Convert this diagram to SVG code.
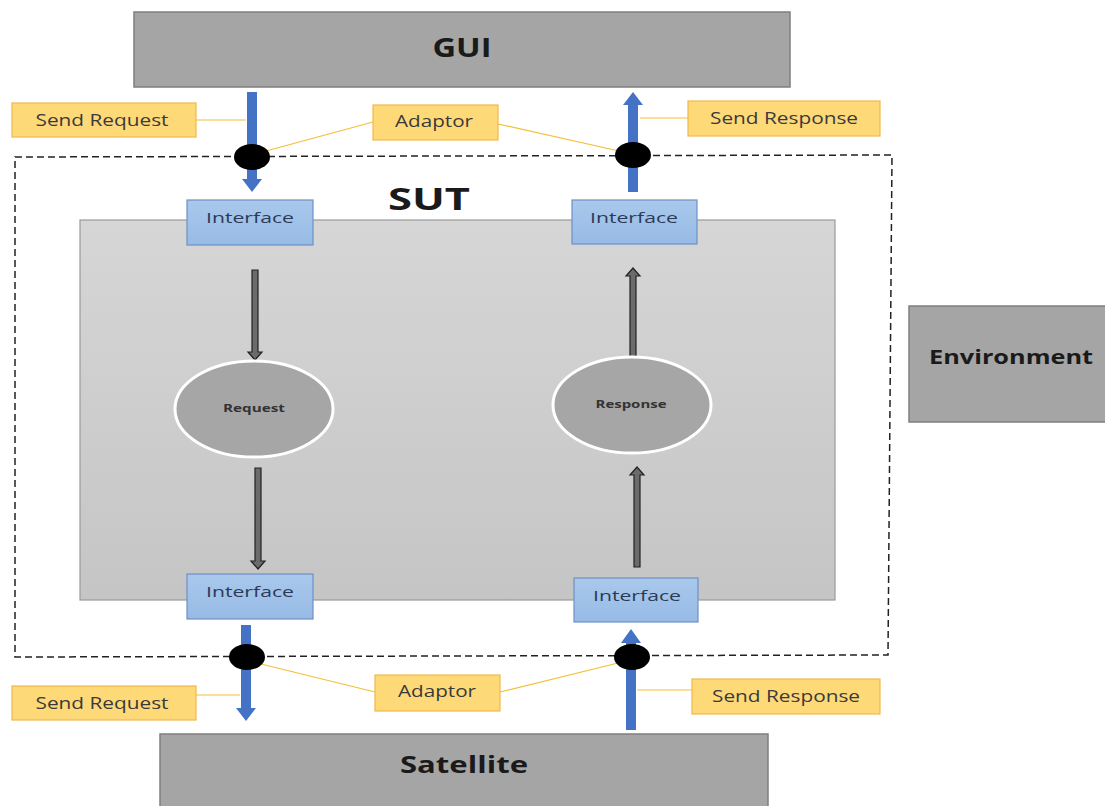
<svg xmlns="http://www.w3.org/2000/svg" width="1105" height="806" viewBox="0 0 1105 806">
  <style>
    .box { fill: #a5a5a5; stroke: #7f7f7f; stroke-width: 1.5; }
    .big { font-family: "Open Sans", "Liberation Sans", sans-serif; font-weight: bold; fill: #1a1a1a; text-anchor: middle; }
    .lbl { fill: #fed978; stroke: #f2b84b; stroke-width: 1.2; }
    .lbltxt { font-family: "Open Sans", "Liberation Sans", sans-serif; font-size: 16px; fill: #3a3a3a; text-anchor: middle; }
    .iface { fill: url(#ifaceGrad); stroke: #6f90c4; stroke-width: 1.2; }
    .ifacetxt { font-family: "Open Sans", "Liberation Sans", sans-serif; font-size: 15px; fill: #2b3a55; text-anchor: middle; }
    .proc { fill: #a6a6a6; stroke: #ffffff; stroke-width: 3; }
    .proctxt { font-family: "Open Sans", "Liberation Sans", sans-serif; font-size: 10px; font-weight: bold; fill: #333; text-anchor: middle; }
    .lead { stroke: #f2c037; stroke-width: 1.2; fill: none; }
    .pipe { stroke: #4472c4; stroke-width: 10; fill: none; }
    .head { fill: #4472c4; }
    .flow { fill: #6b6b6b; stroke: #222; stroke-width: 1.2; }
    .port { fill: #000; }
  </style>
  <defs>
    <linearGradient id="innerGrad" x1="0" y1="0" x2="0" y2="1">
      <stop offset="0" stop-color="#d6d6d6"/>
      <stop offset="1" stop-color="#c5c5c5"/>
    </linearGradient>
    <linearGradient id="ifaceGrad" x1="0" y1="0" x2="0" y2="1">
      <stop offset="0" stop-color="#a9c8ec"/>
      <stop offset="1" stop-color="#97bbe6"/>
    </linearGradient>
  </defs>

  <rect width="1105" height="806" fill="#ffffff"/>

  <!-- System boundary -->
  <g id="sut">
    <path d="M15,157 L892,155 L888,655 L15,657 Z" fill="none" stroke="#222" stroke-width="1.5" stroke-dasharray="7,4"/>
    <text class="big" x="429" y="210" font-size="30" textLength="82" lengthAdjust="spacingAndGlyphs">SUT</text>
  </g>

  <g id="core">
    <rect x="80" y="220" width="755" height="380" fill="url(#innerGrad)" stroke="#9a9a9a" stroke-width="1.2"/>
  </g>

  <g id="gui">
    <rect class="box" x="134" y="12" width="656" height="75"/>
    <text class="big" x="462" y="57" font-size="26" textLength="59" lengthAdjust="spacingAndGlyphs">GUI</text>
  </g>

  <g id="satellite">
    <rect class="box" x="160" y="734" width="608" height="80"/>
    <text class="big" x="464" y="773" font-size="24" textLength="128" lengthAdjust="spacingAndGlyphs">Satellite</text>
  </g>

  <g id="environment">
    <rect class="box" x="909" y="306" width="200" height="116"/>
    <text class="big" x="1011" y="364" font-size="20" textLength="164" lengthAdjust="spacingAndGlyphs">Environment</text>
  </g>

  <!-- Connectors -->
  <g id="connectors">
    <!-- GUI to SUT request -->
    <line class="pipe" x1="252" y1="92" x2="252" y2="180"/>
    <polygon class="head" points="242,179 262,179 252,192"/>
    <!-- SUT to GUI response -->
    <line class="pipe" x1="633" y1="104" x2="633" y2="192"/>
    <polygon class="head" points="623,105 643,105 633,92"/>
    <!-- SUT to Satellite request -->
    <line class="pipe" x1="246" y1="625" x2="246" y2="710"/>
    <polygon class="head" points="236,708 256,708 246,721"/>
    <!-- Satellite to SUT response -->
    <line class="pipe" x1="631" y1="642" x2="631" y2="730"/>
    <polygon class="head" points="621,643 641,643 631,629"/>

    <!-- internal flows -->
    <path class="flow" d="M252,270 H258 V352 H262 L255,360 L248,352 H252 Z"/>
    <path class="flow" d="M255,468 H261 V561 H265 L258,569 L251,561 H255 Z"/>
    <path class="flow" d="M630,357 H636 V276 H640 L633,268 L626,276 H630 Z"/>
    <path class="flow" d="M634,567 H640 V475 H644 L637,467 L630,475 H634 Z"/>

    <!-- label leaders -->
    <line class="lead" x1="196" y1="120" x2="246" y2="120"/>
    <line class="lead" x1="373" y1="122" x2="266" y2="151"/>
    <line class="lead" x1="498" y1="124" x2="619" y2="151"/>
    <line class="lead" x1="688" y1="118" x2="640" y2="118"/>
    <line class="lead" x1="196" y1="695" x2="240" y2="695"/>
    <line class="lead" x1="375" y1="692" x2="261" y2="664"/>
    <line class="lead" x1="500" y1="692" x2="618" y2="663"/>
    <line class="lead" x1="692" y1="690" x2="637" y2="690"/>

    <!-- adaptor ports -->
    <ellipse class="port" cx="252" cy="157" rx="18" ry="13"/>
    <ellipse class="port" cx="633" cy="155" rx="18" ry="13"/>
    <ellipse class="port" cx="247" cy="657" rx="18" ry="13"/>
    <ellipse class="port" cx="632" cy="657" rx="18" ry="13"/>
  </g>

  <!-- Interfaces -->
  <g id="iface-top-left">
    <rect class="iface" x="187" y="200" width="126" height="45"/>
    <text class="ifacetxt" x="250" y="223" textLength="88" lengthAdjust="spacingAndGlyphs">Interface</text>
  </g>
  <g id="iface-top-right">
    <rect class="iface" x="572" y="200" width="125" height="44"/>
    <text class="ifacetxt" x="634" y="223" textLength="88" lengthAdjust="spacingAndGlyphs">Interface</text>
  </g>
  <g id="iface-bottom-left">
    <rect class="iface" x="187" y="574" width="126" height="45"/>
    <text class="ifacetxt" x="250" y="597" textLength="88" lengthAdjust="spacingAndGlyphs">Interface</text>
  </g>
  <g id="iface-bottom-right">
    <rect class="iface" x="574" y="578" width="124" height="44"/>
    <text class="ifacetxt" x="637" y="601" textLength="88" lengthAdjust="spacingAndGlyphs">Interface</text>
  </g>

  <!-- Processes -->
  <g id="request">
    <ellipse class="proc" cx="254" cy="409" rx="79" ry="48"/>
    <text class="proctxt" x="254" y="412" textLength="62" lengthAdjust="spacingAndGlyphs">Request</text>
  </g>
  <g id="response">
    <ellipse class="proc" cx="632" cy="405" rx="79" ry="48"/>
    <text class="proctxt" x="631" y="408" textLength="71" lengthAdjust="spacingAndGlyphs">Response</text>
  </g>

  <!-- Labels -->
  <g id="label-send-request-top">
    <rect class="lbl" x="12" y="103" width="184" height="34"/>
    <text class="lbltxt" x="102" y="126" textLength="133" lengthAdjust="spacingAndGlyphs">Send Request</text>
  </g>
  <g id="label-adaptor-top">
    <rect class="lbl" x="373" y="105" width="125" height="35"/>
    <text class="lbltxt" x="434" y="127" textLength="78" lengthAdjust="spacingAndGlyphs">Adaptor</text>
  </g>
  <g id="label-send-response-top">
    <rect class="lbl" x="688" y="101" width="192" height="35"/>
    <text class="lbltxt" x="784" y="124" textLength="148" lengthAdjust="spacingAndGlyphs">Send Response</text>
  </g>
  <g id="label-send-request-bottom">
    <rect class="lbl" x="12" y="686" width="184" height="34"/>
    <text class="lbltxt" x="102" y="709" textLength="133" lengthAdjust="spacingAndGlyphs">Send Request</text>
  </g>
  <g id="label-adaptor-bottom">
    <rect class="lbl" x="375" y="675" width="125" height="36"/>
    <text class="lbltxt" x="437" y="697" textLength="78" lengthAdjust="spacingAndGlyphs">Adaptor</text>
  </g>
  <g id="label-send-response-bottom">
    <rect class="lbl" x="692" y="679" width="188" height="35"/>
    <text class="lbltxt" x="786" y="702" textLength="148" lengthAdjust="spacingAndGlyphs">Send Response</text>
  </g>
</svg>
